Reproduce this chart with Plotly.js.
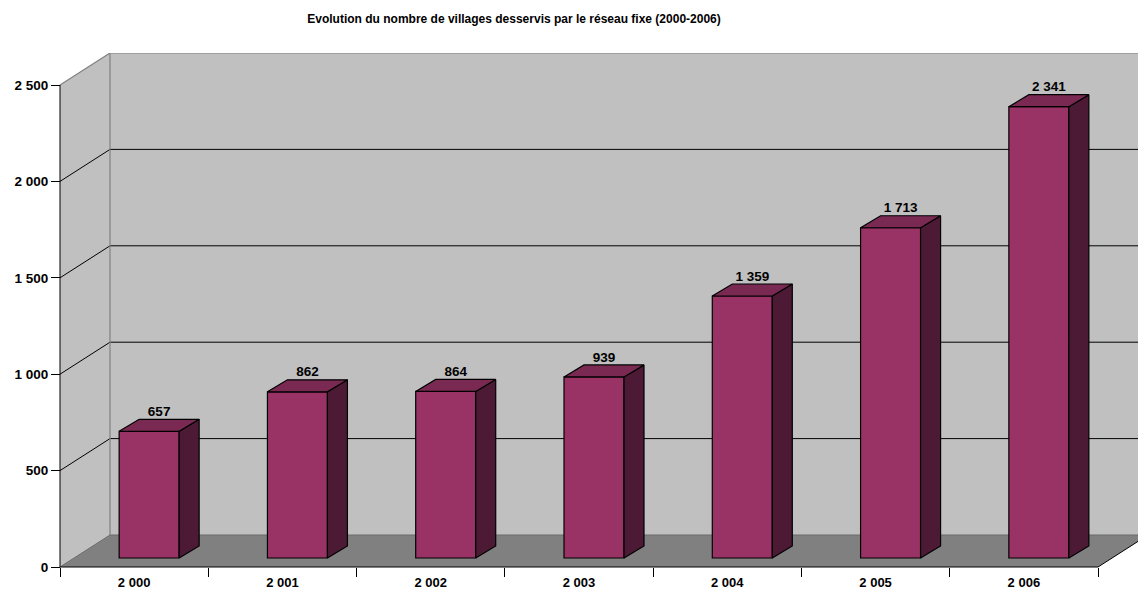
<!DOCTYPE html>
<html>
<head>
<meta charset="utf-8">
<script src="https://cdn.plot.ly/plotly-3.0.1.min.js"></script>
<style>html,body{margin:0;padding:0;background:#fff;}#chart{width:1138px;height:591px;}</style>
</head>
<body>
<div id="chart"></div>
<script>
// ---- data ----
const years = [2000, 2001, 2002, 2003, 2004, 2005, 2006];
const villages = [657, 862, 864, 939, 1359, 1713, 2341];
const yTickValues = [0, 500, 1000, 1500, 2000, 2500];
const chartTitle = 'Evolution du nombre de villages desservis par le réseau fixe (2000-2006)';

// ---- geometry (pixel-derived styling constants) ----
const W = 1138, H = 591;
const mL = 40, mR = 0, mT = 53, mB = 10;
const plotW = W - mL - mR, plotH = H - mT - mB;
const axisXpx = 60, axisYpx = 567;          // front axis corner
const Sx = (1098 - 60) / 7;                 // px per category
const Sy = (567 - 85) / 2500;               // px per value unit
const xr0 = -0.5 - (axisXpx - mL) / Sx;
const xr1 = -0.5 + (W - mR - axisXpx) / Sx;
const yr0 = -(mT + plotH - axisYpx) / Sy;
const yr1 = (axisYpx - mT) / Sy;
const DXw = 50 / Sx, DYw = 32 / Sy;        // wall depth
const barOff = 15 / Sx, barW = 60 / Sx, barBase = 9 / Sy;
const bdx = 20 / Sx, bdy = 12 / Sy;        // bar depth
const yMax = yTickValues[yTickValues.length - 1];
const nCat = years.length;

const fmt = n => String(n).replace(/\B(?=(\d{3})+(?!\d))/g, ' ');

const FONT = 'Arial, "Liberation Sans", sans-serif';

// ---- bar 3D faces built from data ----
const sideX = [], sideY = [], topX = [], topY = [];
villages.forEach((v, i) => {
  const xl = i + barOff - barW / 2, xr = i + barOff + barW / 2;
  const yb = barBase, yt = barBase + v;
  sideX.push(xr, xr + bdx, xr + bdx, xr, xr, null);
  sideY.push(yb, yb + bdy, yt + bdy, yt, yb, null);
  topX.push(xl, xl + bdx, xr + bdx, xr, xl, null);
  topY.push(yt, yt + bdy, yt + bdy, yt, yt, null);
});

const traces = [
  {
    type: 'bar', x: years.map((_, i) => i + barOff), y: villages, base: barBase,
    width: barW, marker: {color: '#993366', line: {color: '#000', width: 1.2}},
    hoverinfo: 'skip', showlegend: false
  },
  {
    type: 'scatter', mode: 'lines', x: sideX, y: sideY, fill: 'toself',
    fillcolor: '#4D1A35', line: {color: '#000', width: 1.2}, hoverinfo: 'skip', showlegend: false
  },
  {
    type: 'scatter', mode: 'lines', x: topX, y: topY, fill: 'toself',
    fillcolor: '#7A2A52', line: {color: '#000', width: 1.2}, hoverinfo: 'skip', showlegend: false
  },
  {
    type: 'scatter', mode: 'text', xaxis: 'x2',
    x: villages.map((_, i) => i + barOff + bdx / 2),
    y: villages.map(v => barBase + v + bdy),
    text: villages.map(fmt), textposition: 'top center',
    textfont: {family: FONT, size: 13.5, color: '#000', weight: 'bold'},
    hoverinfo: 'skip', showlegend: false, cliponaxis: false
  }
];

// ---- walls, floor, gridlines ----
const shapes = [];
const L = -0.5, Lb = -0.5 + DXw, R = nCat - 0.5, far = xr1 + 1;
shapes.push({type: 'rect', xref: 'x', yref: 'y', x0: Lb, x1: far, y0: DYw, y1: yMax + DYw,
  fillcolor: '#C0C0C0', line: {width: 0}, layer: 'below'});
shapes.push({type: 'path', xref: 'x', yref: 'y',
  path: `M${L},0 L${Lb},${DYw} L${Lb},${yMax + DYw} L${L},${yMax} Z`,
  fillcolor: '#C0C0C0', line: {width: 0}, layer: 'below'});
shapes.push({type: 'path', xref: 'x', yref: 'y',
  path: `M${L},0 L${R},0 L${R + DXw},${DYw} L${Lb},${DYw} Z`,
  fillcolor: '#808080', line: {width: 0}, layer: 'below'});
yTickValues.slice(1, -1).forEach(v => {
  shapes.push({type: 'path', xref: 'x', yref: 'y',
    path: `M${L},${v} L${Lb},${v + DYw} L${far},${v + DYw}`,
    line: {color: '#000', width: 1}, layer: 'below'});
});
// wall edges (gray)
shapes.push({type: 'path', xref: 'x', yref: 'y',
  path: `M${L},${yMax} L${Lb},${yMax + DYw} L${far},${yMax + DYw}`,
  line: {color: '#808080', width: 1.2}, layer: 'below'});
shapes.push({type: 'path', xref: 'x', yref: 'y',
  path: `M${Lb},${DYw} L${Lb},${yMax + DYw}`,
  line: {color: '#808080', width: 1.2}, layer: 'below'});
shapes.push({type: 'path', xref: 'x', yref: 'y',
  path: `M${L},0 L${Lb},${DYw} L${far},${DYw}`,
  line: {color: '#6a6a6a', width: 1}, layer: 'below'});
// front axis lines (black)
shapes.push({type: 'path', xref: 'x', yref: 'y',
  path: `M${L},${yMax} L${L},0 L${R},0 L${R + DXw},${DYw}`,
  line: {color: '#000', width: 1}, layer: 'below'});

const layout = {
  width: W, height: H,
  margin: {l: mL, r: mR, t: mT, b: mB, pad: 0},
  paper_bgcolor: '#fff', plot_bgcolor: '#fff',
  separators: ', ',
  showlegend: false,
  title: {
    text: chartTitle, x: 514 / W, xref: 'container', xanchor: 'center',
    y: 1 - 19 / H, yref: 'container', yanchor: 'middle',
    font: {family: FONT, size: 12, color: '#000', weight: 'bold'}
  },
  xaxis: {
    range: [xr0, xr1], anchor: 'free', position: (mT + plotH - axisYpx) / plotH,
    tickmode: 'array', tickvals: Array.from({length: nCat + 1}, (_, k) => k - 0.5),
    ticktext: Array.from({length: nCat + 1}, () => ''),
    ticks: 'outside', ticklen: 9, tickcolor: '#000', tickwidth: 1,
    showgrid: false, zeroline: false, showline: false, fixedrange: true
  },
  xaxis2: {
    overlaying: 'x', matches: 'x', anchor: 'free', side: 'bottom',
    position: (mT + plotH - axisYpx) / plotH,
    tickmode: 'array', tickvals: years.map((_, i) => i), ticktext: years.map(fmt),
    ticks: 'outside', ticklen: 3, tickcolor: 'rgba(0,0,0,0)',
    tickfont: {family: FONT, size: 13, color: '#000', weight: 'bold'},
    showgrid: false, zeroline: false, showline: false, fixedrange: true
  },
  yaxis: {
    range: [yr0, yr1], anchor: 'free', position: (axisXpx - mL) / plotW,
    tickmode: 'array', tickvals: yTickValues, ticktext: yTickValues.map(fmt),
    ticks: 'outside', ticklen: 9, tickcolor: '#000', tickwidth: 1,
    tickfont: {family: FONT, size: 13.5, color: '#000', weight: 'bold'},
    showgrid: false, zeroline: false, showline: false, fixedrange: true
  },
  shapes: shapes,
  bargap: 0
};

Plotly.newPlot('chart', traces, layout, {displayModeBar: false, staticPlot: true});
</script>
</body>
</html>
